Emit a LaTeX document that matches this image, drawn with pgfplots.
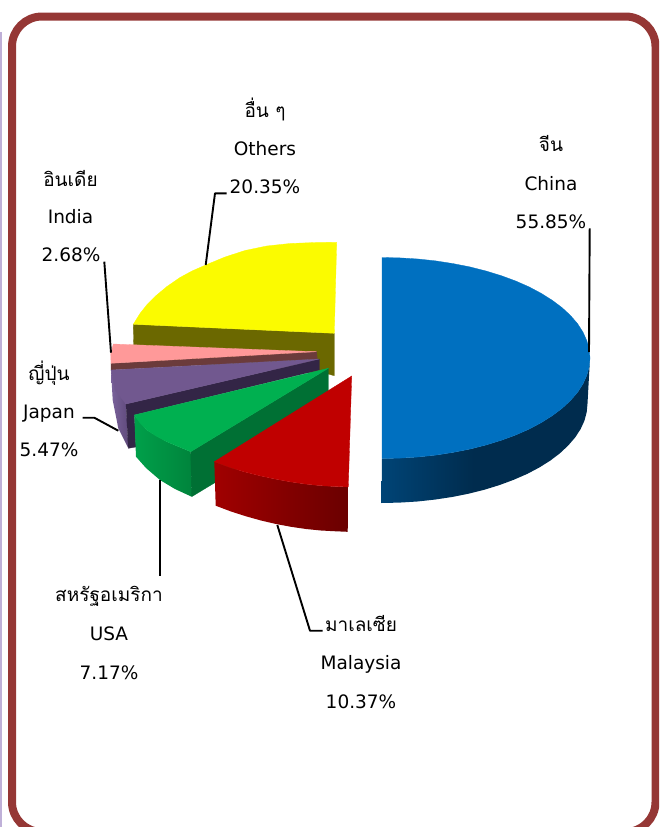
\documentclass[border=0pt]{standalone}
\usepackage{pgfplots}
\pgfplotsset{compat=1.18}
\usepackage{fontspec}
\setmainfont{DejaVu Sans}
\newfontfamily\thaifont[Script=Thai]{Loma}
\definecolor{frame}{HTML}{953735}
\definecolor{lav}{HTML}{BFB0D8}
\definecolor{yel}{HTML}{FBFB00}
\definecolor{yels}{HTML}{6B6800}
\definecolor{pnk}{HTML}{FF9999}
\definecolor{pnks}{HTML}{6B3B3B}
\definecolor{pur}{HTML}{71588F}
\definecolor{purs}{HTML}{332546}
\definecolor{purA}{HTML}{7A629B}
\definecolor{purB}{HTML}{604A7C}
\definecolor{grn}{HTML}{00B050}
\definecolor{grns}{HTML}{007034}
\definecolor{grnA}{HTML}{00A04A}
\definecolor{grnB}{HTML}{00843C}
\definecolor{rd}{HTML}{C00000}
\definecolor{rdA}{HTML}{A00000}
\definecolor{rdB}{HTML}{6A0000}
\definecolor{blu}{HTML}{0070C0}
\definecolor{bluA}{HTML}{004476}
\definecolor{bluB}{HTML}{002C4E}
\pgfdeclarehorizontalshading{blueside}{100bp}{color(0bp)=(bluA); color(25bp)=(bluA); color(47bp)=(bluB); color(100bp)=(bluB)}
\pgfplotsset{
  face/.style={draw=#1, fill=#1, line width=0.3pt, no markers},
  lead/.style={black, line width=1.9pt, no markers, line join=round},
}
\begin{document}
\begin{tikzpicture}
\begin{axis}[
  at={(0pt,0pt)}, anchor=south west,
  scale only axis, width=659pt, height=827pt,
  xmin=0, xmax=659, ymin=0, ymax=827, y dir=reverse,
  hide axis, clip=true,
]
% page extent
\path (axis cs:0,0) rectangle (axis cs:659,827);
% side line and frame
\addplot[lav, line width=2pt, no markers] coordinates {(1,32) (1,827)};
\draw[frame, line width=8pt, rounded corners=30pt] (axis cs:12,16.5) rectangle (axis cs:655.5,832);

% Others (yellow)
\addplot[face=yels] coordinates {(133.3,324.3) (334.3,333.3) (334.3,375.7) (328,374) (134,360)} --cycle;
\addplot[face=yel] coordinates {(133.3,324.3) (140,313.5) (146.7,305) (155,296.5) (166.7,286.7) (180,277.5) (192,271) (205.7,265) (225,257) (245,250.5) (266.7,246) (290,243.5) (315,242.5) (336.7,242.3) (334.3,333.3)} --cycle;

% India (pink)
\addplot[face=pnks] coordinates {(111,363.3) (316.7,351.7) (317.3,359) (111,370)} --cycle;
\addplot[face=pnk] coordinates {(113.3,344) (316.7,351.7) (111,363.3) (110.7,354)} --cycle;

% Japan (purple)
\addplot[draw=none, left color=purA, right color=purB, no markers] coordinates {(111,370) (112.7,400) (118.3,428.3) (128.3,448.3) (126,404) (115,385)} --cycle;
\addplot[face=purs] coordinates {(126,404) (319.3,359) (319.3,370) (134.3,415) (136,447) (128.3,448.3)} --cycle;
\addplot[face=pur] coordinates {(111,370) (319.3,359) (126,404) (115,390)} --cycle;

% USA (green)
\addplot[draw=none, left color=grnA, right color=grnB, no markers] coordinates {(134.3,415) (146.7,430) (166.7,441.7) (190.7,451.7) (191.7,496.7) (175,489) (160,480) (146,468) (136,456.7)} --cycle;
\addplot[face=grns] coordinates {(190.7,451.7) (328.3,368.3) (328.3,414) (191.7,496.7)} --cycle;
\addplot[face=grn] coordinates {(328.3,368.3) (134.3,415) (140,423) (146.7,430) (156,436) (166.7,441.7) (190.7,451.7)} --cycle;

% Malaysia (red)
\addplot[draw=none, left color=rdA, right color=rdB, no markers] coordinates {(214.3,461.7) (230,467.5) (245,472) (260,475.8) (275,479) (290,481.8) (305,484) (320,485.6) (335,486.5) (348.3,486.9) (347.7,531.8) (336,531.3) (321,530.5) (306,529) (291,526.8) (276,524) (261,520.5) (246,516.3) (231,511.5) (215.7,505.7)} --cycle;
\addplot[face=rd] coordinates {(351.7,376) (214.3,461.7) (230,467.5) (245,472) (260,475.8) (275,479) (290,481.8) (305,484) (320,485.6) (335,486.5) (348.3,486.9)} --cycle;

% China (blue)
\addplot[draw=none, shading=blueside, no markers] coordinates {(590,358) (589.2,366.8) (586.8,375.4) (582.9,384) (577.5,392.4) (570.5,400.5) (562.1,408.3) (552.4,415.6) (541.3,422.6) (529.1,429.1) (515.7,435) (501.3,440.3) (486,445) (469.9,449.1) (453.1,452.4) (435.8,455.1) (418.1,457) (400.1,458.1) (382,458.5) (381.5,503) (399.5,502.6) (417.3,501.5) (434.8,499.6) (452,497) (468.6,493.7) (484.5,489.7) (499.7,485) (513.9,479.7) (527.2,473.9) (539.3,467.5) (550.3,460.6) (559.9,453.3) (568.2,445.5) (575.1,437.5) (580.5,429.3) (584.4,420.8) (586.7,412.2) (587.5,403.5)} --cycle;
\addplot[face=blu] coordinates {(382,257.5) (400.1,257.9) (418.1,259) (435.8,260.9) (453.1,263.6) (469.9,266.9) (486,271) (501.3,275.7) (515.7,281) (529.1,286.9) (541.3,293.4) (552.4,300.4) (562.1,307.7) (570.5,315.5) (577.5,323.6) (582.9,332) (586.8,340.6) (589.2,349.2) (590,358) (589.2,366.8) (586.8,375.4) (582.9,384) (577.5,392.4) (570.5,400.5) (562.1,408.3) (552.4,415.6) (541.3,422.6) (529.1,429.1) (515.7,435) (501.3,440.3) (486,445) (469.9,449.1) (453.1,452.4) (435.8,455.1) (418.1,457) (400.1,458.1) (382,458.5)} --cycle;

% leader lines
\addplot[lead] coordinates {(589.7,228.3) (589,352)};
\addplot[lead] coordinates {(226.7,193.3) (215,193.3) (205.7,265)};
\addplot[lead] coordinates {(104.3,261.7) (111,352.7)};
\addplot[lead] coordinates {(82.7,417.7) (94.3,417.7) (118.3,430.7)};
\addplot[lead] coordinates {(160,480) (160,576)};
\addplot[lead] coordinates {(277.3,525) (310,630.7) (322.7,630.7)};

% labels
\def\fs{\fontsize{18.5}{22}\selectfont}
\def\fsth{\thaifont\fontsize{19}{22}\selectfont}
\node[anchor=base, inner sep=0pt, font=\fsth] at (axis cs:551,151.7) {จีน};
\node[anchor=base, inner sep=0pt, font=\fs] at (axis cs:551,190) {China};
\node[anchor=base, inner sep=0pt, font=\fs] at (axis cs:551,228.3) {55.85\%};
\node[anchor=base, inner sep=0pt, font=\fsth] at (axis cs:265,117) {อื่น ๆ};
\node[anchor=base, inner sep=0pt, font=\fs] at (axis cs:265,155) {Others};
\node[anchor=base, inner sep=0pt, font=\fs] at (axis cs:265,193.3) {20.35\%};
\node[anchor=base, inner sep=0pt, font=\fsth] at (axis cs:70.5,186) {อินเดีย};
\node[anchor=base, inner sep=0pt, font=\fs] at (axis cs:70.5,223.3) {India};
\node[anchor=base, inner sep=0pt, font=\fs] at (axis cs:71,261) {2.68\%};
\node[anchor=base, inner sep=0pt, font=\fsth] at (axis cs:49,380) {ญี่ปุ่น};
\node[anchor=base, inner sep=0pt, font=\fs] at (axis cs:49,418.3) {Japan};
\node[anchor=base, inner sep=0pt, font=\fs] at (axis cs:49,456.7) {5.47\%};
\node[anchor=base, inner sep=0pt, font=\fsth] at (axis cs:109,601.7) {สหรัฐอเมริกา};
\node[anchor=base, inner sep=0pt, font=\fs] at (axis cs:109,640) {USA};
\node[anchor=base, inner sep=0pt, font=\fs] at (axis cs:109,679) {7.17\%};
\node[anchor=base, inner sep=0pt, font=\fsth] at (axis cs:361,631) {มาเลเซีย};
\node[anchor=base, inner sep=0pt, font=\fs] at (axis cs:361,669.3) {Malaysia};
\node[anchor=base, inner sep=0pt, font=\fs] at (axis cs:361,708.3) {10.37\%};
\end{axis}
\end{tikzpicture}
\end{document}
